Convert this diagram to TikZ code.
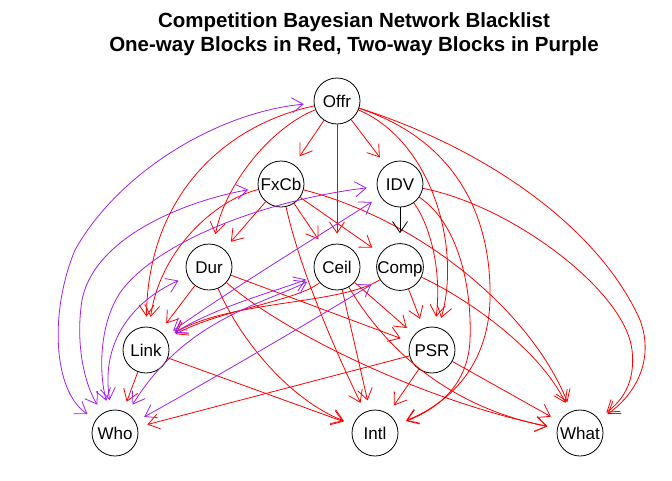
\documentclass[tikz,border=0pt]{standalone}
\usepackage{fontspec}
\setmainfont{Liberation Sans}
\usetikzlibrary{arrows.meta}
\definecolor{rpurple}{HTML}{A020F0}
\begin{document}
\begin{tikzpicture}[x=1pt,y=-1pt,
  nd/.style={circle,draw=black,line width=0.8pt,minimum size=46pt,inner sep=0pt,
    font=\fontsize{17}{17}\selectfont,text height=12pt,text depth=0pt},
  tipb/.tip={Straight Barb[length=11pt,width=15pt]},
  ow/.style={draw=red,line width=0.8pt,-tipb,shorten >=10pt},
  bw/.style={draw=black,line width=0.8pt,-tipb,shorten >=10pt},
  tw/.style={draw=rpurple,line width=0.8pt,tipb-tipb,shorten >=10pt,shorten <=10pt},
  ttl/.style={font=\fontsize{20.5}{20.5}\selectfont\bfseries,anchor=base,inner sep=0pt}]
\useasboundingbox (0,0) rectangle (672,480);
\fill[white] (0,0) rectangle (672,480);

\node[ttl] (t1) at (354,27) {Competition Bayesian Network Blacklist};
\node[ttl] (t2) at (354,51) {One-way Blocks in Red, Two-way Blocks in Purple};

\node[nd] (offr) at (337,101) {Offr};
\node[nd] (fxcb) at (281,184) {FxCb};
\node[nd] (idv)  at (400,184) {IDV};
\node[nd] (dur)  at (209,267) {Dur};
\node[nd] (ceil) at (337,267) {Ceil};
\node[nd] (comp) at (400,267) {Comp};
\node[nd] (link) at (146,350) {Link};
\node[nd] (psr)  at (432,350) {PSR};
\node[nd] (who)  at (115,433) {Who};
\node[nd] (intl) at (375,433) {Intl};
\node[nd] (what) at (580,433) {What};

% one-way blocks from Offr
\draw[ow] (offr) -- (fxcb);
\draw[ow] (offr) -- (idv);
\draw[ow] (offr) -- (ceil);
\draw[ow] (offr) .. controls (270,128) and (225,185) .. (dur);
\draw[ow] (offr) .. controls (225,125) and (148,195) .. (link);
\draw[ow] (offr) .. controls (430,140) and (462,245) .. (psr);
\draw[ow] (offr) .. controls (455,140) and (492,215) .. (490,300) .. controls (488,370) and (445,405) .. (intl);
\draw[ow] (offr) .. controls (490,150) and (600,230) .. (640,320) .. controls (655,360) and (635,395) .. (what);

% from FxCb
\draw[ow] (fxcb) -- (dur);
\draw[ow] (fxcb) .. controls (215,200) and (160,250) .. (link);
\draw[ow] (fxcb) -- (ceil);
\draw[ow] (fxcb) -- (comp);
\draw[ow] (fxcb) .. controls (300,270) and (335,350) .. (intl);
\draw[ow] (fxcb) .. controls (420,220) and (530,310) .. (what);

% from IDV
\draw[bw] (idv) -- (comp);
\draw[ow] (idv) .. controls (430,225) and (442,270) .. (psr);
\draw[ow] (idv) .. controls (460,225) and (472,290) .. (470,340) .. controls (468,390) and (430,412) .. (intl);
\draw[ow] (idv) .. controls (510,205) and (625,290) .. (632,350) .. controls (636,385) and (620,402) .. (what);

% from Dur
\draw[ow] (dur) -- (link);
\draw[ow] (dur) -- (psr);
\draw[ow] (dur) .. controls (240,340) and (290,400) .. (intl);
\draw[ow] (dur) .. controls (280,330) and (420,400) .. (what);

% from Ceil
\draw[ow] (ceil) .. controls (300,300) and (220,310) .. (link);
\draw[ow] (ceil) -- (psr);
\draw[ow] (ceil) -- (intl);
\draw[ow] (ceil) .. controls (380,340) and (440,405) .. (what);

% from Comp
\draw[ow] (comp) -- (psr);
\draw[ow] (comp) .. controls (340,305) and (230,300) .. (link);
\draw[ow] (comp) .. controls (470,300) and (540,350) .. (what);

% from PSR
\draw[ow] (psr) -- (who);
\draw[ow] (psr) -- (intl);
\draw[ow] (psr) -- (what);

% from Link
\draw[ow] (link) -- (who);
\draw[ow] (link) -- (intl);

% two-way blocks
\draw[tw] (offr) .. controls (220,112) and (120,170) .. (75,250) .. controls (50,310) and (52,390) .. (who);
\draw[tw] (fxcb) .. controls (190,200) and (95,235) .. (82,300) .. controls (75,345) and (85,385) .. (who);
\draw[tw] (idv) .. controls (280,198) and (165,235) .. (122,290) .. controls (100,320) and (98,370) .. (who);
\draw[tw] (dur) .. controls (135,300) and (100,340) .. (who);
\draw[tw] (ceil) .. controls (260,305) and (185,320) .. (who);
\draw[tw] (comp) .. controls (330,310) and (220,375) .. (who);
\draw[tw] (link) .. controls (230,290) and (320,235) .. (idv);
\draw[tw] (link) .. controls (220,305) and (280,290) .. (ceil);
\end{tikzpicture}
\end{document}
